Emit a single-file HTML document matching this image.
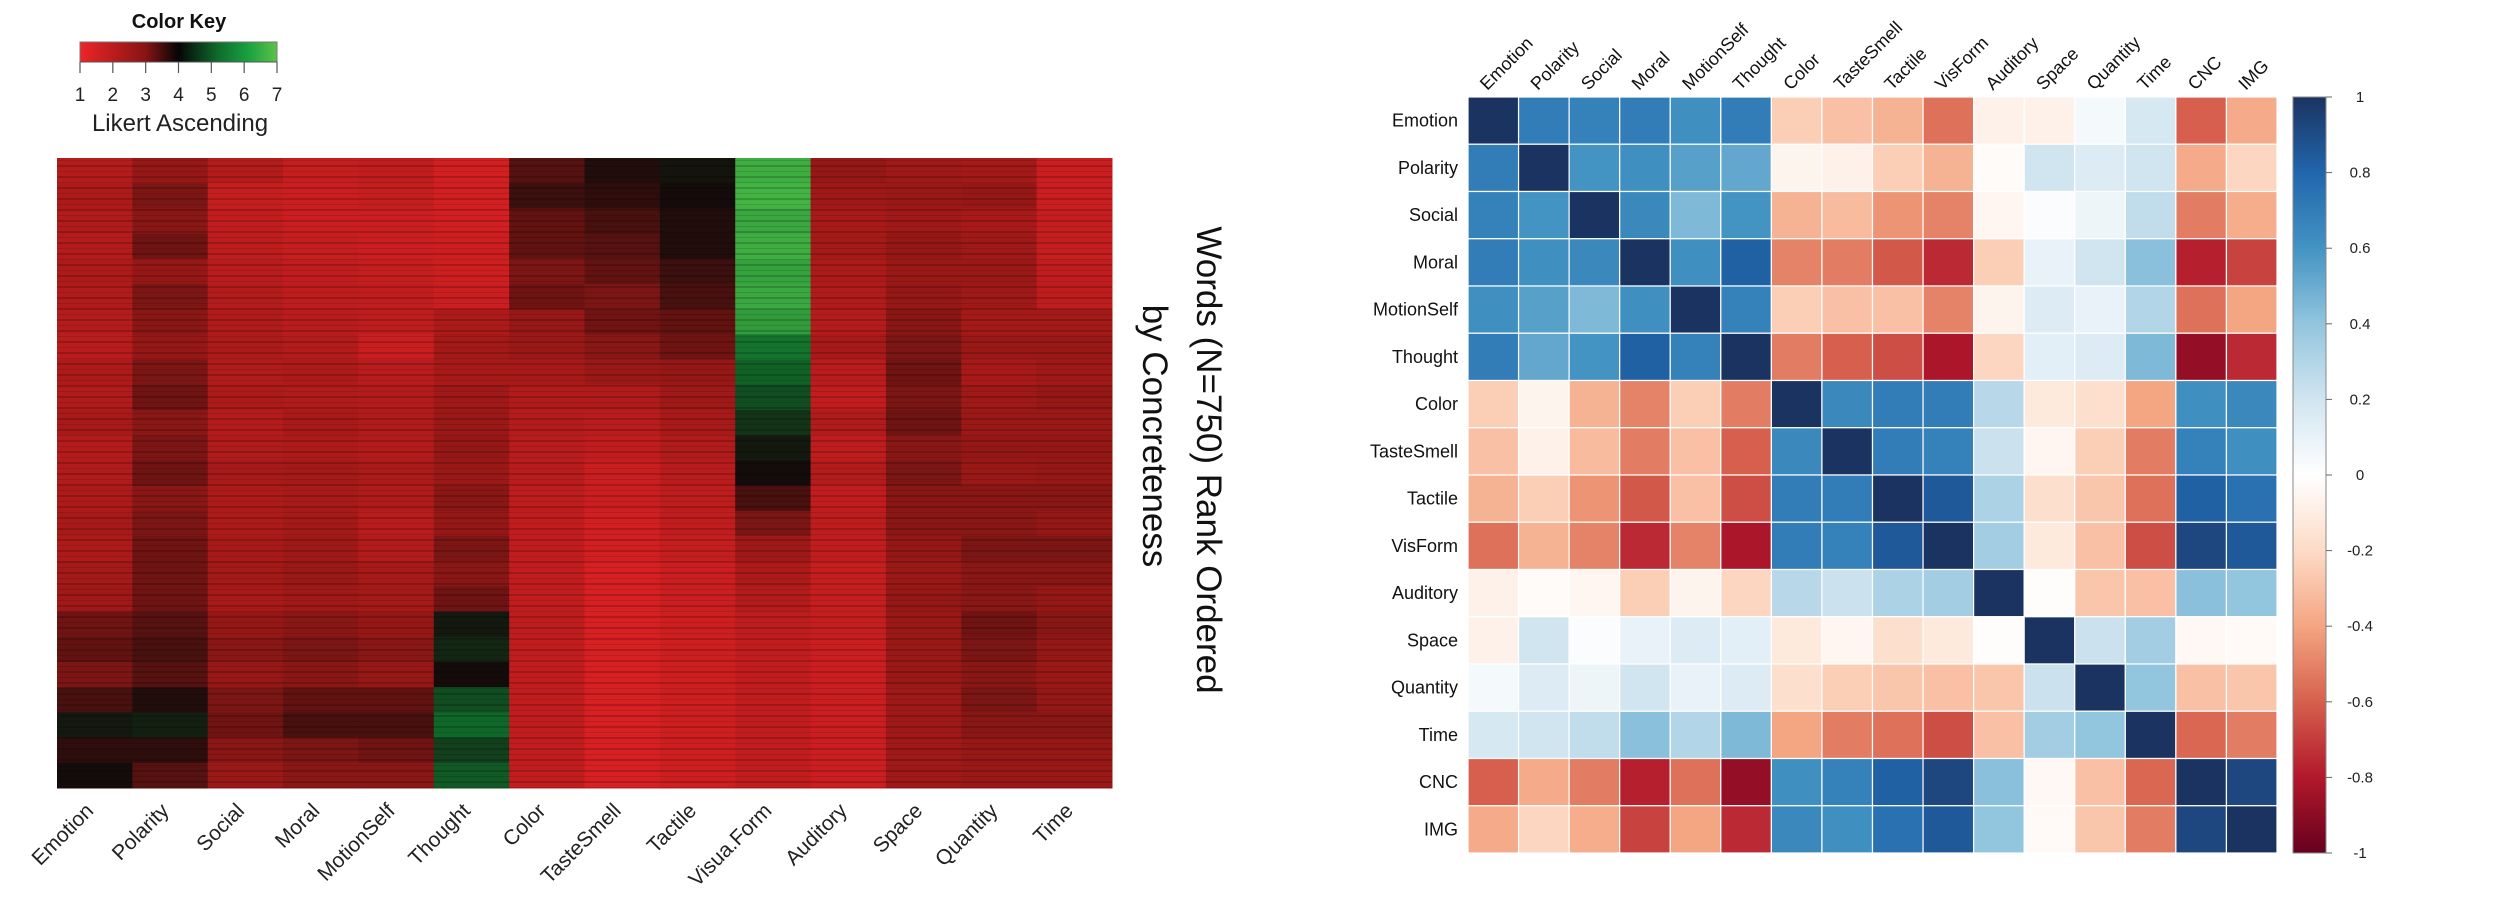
<!DOCTYPE html>
<html><head><meta charset="utf-8"><style>
html,body{margin:0;padding:0;background:#fff;}
svg{display:block;font-family:"Liberation Sans",sans-serif;}
</style></head><body>
<svg id="root" width="2500" height="902" viewBox="0 0 2500 902">
<defs>
<linearGradient id="keyGrad" x1="0" x2="1" y1="0" y2="0">
<stop offset="0" stop-color="#ee2428"/><stop offset="0.33" stop-color="#8a1414"/><stop offset="0.5" stop-color="#050505"/><stop offset="0.7" stop-color="#0f6b2c"/><stop offset="0.85" stop-color="#18a040"/><stop offset="1" stop-color="#5cc24a"/>
</linearGradient>
<linearGradient id="corrGrad" x1="0" x2="0" y1="0" y2="1">
<stop offset="0" stop-color="#1b3360"/><stop offset="0.1" stop-color="#2166ac"/><stop offset="0.2" stop-color="#4393c3"/><stop offset="0.3" stop-color="#92c5de"/><stop offset="0.4" stop-color="#d1e5f0"/><stop offset="0.5" stop-color="#ffffff"/><stop offset="0.6" stop-color="#fddbc7"/><stop offset="0.7" stop-color="#f4a582"/><stop offset="0.8" stop-color="#d6604d"/><stop offset="0.9" stop-color="#b2182b"/><stop offset="1" stop-color="#67001f"/>
</linearGradient>
<pattern id="stripes" width="8" height="11" patternUnits="userSpaceOnUse">
<rect x="0" y="0" width="8" height="2" fill="#000" opacity="0.18"/><rect x="0" y="6" width="8" height="1" fill="#000" opacity="0.12"/>
</pattern>
</defs>
<g id="left"></g>
<g id="right"></g>
</svg>
<script>
const NS="http://www.w3.org/2000/svg";
// ---- Heatmap data (segment means of 30 words each, 25 segments, Likert 1-7) ----
const heatCategories=["Emotion","Polarity","Social","Moral","MotionSelf","Thought","Color","TasteSmell","Tactile","Visua.Form","Auditory","Space","Quantity","Time"];
const heatEmotion=[2.3,2.5,2.4,2.3,2.5,2.4,2.3,2.2,2.5,2.4,2.6,2.3,2.4,2.5,2.6,2.5,2.7,2.8,3.3,3.4,3.2,3.6,4.2,3.8,4.0];
const heatPolarity=[3.0,3.2,3.1,3.3,3.0,3.2,3.1,3.0,3.2,3.3,3.1,3.2,3.3,3.1,3.2,3.3,3.3,3.3,3.5,3.6,3.5,3.9,4.3,3.8,3.5];
const heatSocial=[2.3,1.9,2.0,2.1,2.2,2.3,2.4,2.5,2.4,2.5,2.3,2.4,2.6,2.5,2.5,2.6,2.7,2.6,3.0,3.1,3.0,3.2,3.3,3.1,2.9];
const heatMoral=[1.9,1.8,1.8,1.9,2.0,2.1,2.2,2.3,2.5,2.4,2.6,2.5,2.7,2.6,2.7,2.8,2.9,2.8,3.1,3.2,3.1,3.4,3.6,3.2,3.1];
const heatMotionSelf=[2.0,1.9,1.8,1.8,1.9,2.0,2.1,1.8,2.2,2.3,2.4,2.3,2.5,2.4,2.2,2.3,2.6,2.7,3.0,3.1,3.0,3.4,3.6,3.3,3.1];
const heatThought=[1.6,1.6,1.6,1.7,1.7,1.8,2.5,2.7,2.6,2.8,2.9,3.0,2.9,3.1,3.0,3.2,3.1,3.3,4.2,4.4,4.0,5.0,5.4,4.8,5.2];
const heatColor=[3.5,3.7,3.4,3.4,3.2,3.3,3.0,2.9,2.6,2.4,2.3,2.2,2.2,2.1,2.0,2.0,2.0,2.0,2.1,2.0,2.0,2.0,2.0,2.0,2.0];
const heatTasteSmell=[3.9,3.8,3.6,3.5,3.4,3.2,3.3,3.1,2.9,2.4,2.2,2.0,1.8,1.8,1.6,1.6,1.5,1.5,1.5,1.5,1.5,1.5,1.5,1.5,1.5];
const heatTactile=[4.1,4.0,3.9,3.9,3.7,3.6,3.4,3.3,3.0,2.8,2.6,2.4,2.2,2.1,2.0,1.9,1.8,1.8,1.7,1.7,1.7,1.7,1.7,1.7,1.7];
const heatVisForm=[6.6,6.7,6.5,6.6,6.4,6.5,6.3,5.6,5.3,5.0,4.6,4.2,4.0,3.6,3.2,2.8,2.5,2.3,2.1,2.0,2.0,2.0,2.0,2.0,2.0];
const heatAuditory=[3.0,2.8,2.6,2.7,2.5,2.4,2.3,2.6,2.2,2.0,2.4,2.1,2.3,2.0,2.1,2.0,1.9,1.9,1.9,1.8,1.8,1.8,1.8,1.8,1.8];
const heatSpace=[2.8,2.9,2.8,3.0,2.9,3.0,3.1,3.2,3.3,3.2,3.3,3.1,3.2,3.1,3.1,3.0,2.9,3.0,2.9,2.9,2.9,2.8,2.8,2.8,2.8];
const heatQuantity=[2.7,3.0,2.6,2.8,2.9,2.8,2.7,2.9,2.6,2.8,2.9,3.0,2.9,3.1,3.1,3.2,3.1,3.1,3.3,3.2,3.1,3.2,3.1,3.0,2.9];
const heatTime=[1.8,1.8,1.9,1.9,2.0,2.1,2.7,2.9,2.8,3.0,2.9,3.0,3.0,3.1,3.0,3.2,3.1,3.0,3.1,3.0,2.9,3.0,3.1,3.0,2.9];
const heatSeries=[heatEmotion,heatPolarity,heatSocial,heatMoral,heatMotionSelf,heatThought,heatColor,heatTasteSmell,heatTactile,heatVisForm,heatAuditory,heatSpace,heatQuantity,heatTime];
const keyTicks=[1,2,3,4,5,6,7];

// ---- Correlation data ----
const corrVars=["Emotion","Polarity","Social","Moral","MotionSelf","Thought","Color","TasteSmell","Tactile","VisForm","Auditory","Space","Quantity","Time","CNC","IMG"];
const corrEmotion=[1,.7,.68,.7,.62,.7,-.25,-.3,-.35,-.55,-.08,-.08,.05,.18,-.6,-.38];
const corrPolarity=[.7,1,.6,.62,.55,.52,-.06,-.08,-.25,-.35,-.02,.2,.15,.2,-.38,-.22];
const corrSocial=[.68,.6,1,.65,.45,.6,-.35,-.32,-.45,-.5,-.05,.02,.08,.25,-.52,-.37];
const corrMoral=[.7,.62,.65,1,.62,.82,-.5,-.52,-.62,-.75,-.25,.1,.2,.42,-.78,-.68];
const corrMotionSelf=[.62,.55,.45,.62,1,.68,-.25,-.3,-.3,-.5,-.06,.15,.1,.3,-.55,-.4];
const corrThought=[.7,.52,.6,.82,.68,1,-.52,-.6,-.65,-.82,-.22,.12,.15,.45,-.88,-.75];
const corrColor=[-.25,-.06,-.35,-.5,-.25,-.52,1,.65,.7,.7,.28,-.12,-.18,-.4,.62,.65];
const corrTasteSmell=[-.3,-.08,-.32,-.52,-.3,-.6,.65,1,.7,.68,.22,-.05,-.25,-.52,.68,.62];
const corrTactile=[-.35,-.25,-.45,-.62,-.3,-.65,.7,.7,1,.85,.32,-.18,-.28,-.55,.82,.75];
const corrVisForm=[-.55,-.35,-.5,-.75,-.5,-.82,.7,.68,.85,1,.35,-.12,-.3,-.65,.92,.85];
const corrAuditory=[-.08,-.02,-.05,-.25,-.06,-.22,.28,.22,.32,.35,1,-.01,-.28,-.3,.42,.4];
const corrSpace=[-.08,.2,.02,.1,.15,.12,-.12,-.05,-.18,-.12,-.01,1,.22,.35,-.04,-.03];
const corrQuantity=[.05,.15,.08,.2,.1,.15,-.18,-.25,-.28,-.3,-.28,.22,1,.4,-.3,-.28];
const corrTime=[.18,.2,.25,.42,.3,.45,-.4,-.52,-.55,-.65,-.3,.35,.4,1,-.58,-.52];
const corrCNC=[-.6,-.38,-.52,-.78,-.55,-.88,.62,.68,.82,.92,.42,-.04,-.3,-.58,1,.92];
const corrIMG=[-.38,-.22,-.37,-.68,-.4,-.75,.65,.62,.75,.85,.4,-.03,-.28,-.52,.92,1];
const corrRows=[corrEmotion,corrPolarity,corrSocial,corrMoral,corrMotionSelf,corrThought,corrColor,corrTasteSmell,corrTactile,corrVisForm,corrAuditory,corrSpace,corrQuantity,corrTime,corrCNC,corrIMG];
const colorbarTicks=[1,0.8,0.6,0.4,0.2,0,-0.2,-0.4,-0.6,-0.8,-1];

function mk(tag,attrs,parent,text){const e=document.createElementNS(NS,tag);for(const k in attrs)e.setAttribute(k,attrs[k]);if(text!==undefined)e.textContent=text;parent.appendChild(e);return e;}
function lerp(a,b,t){return a+(b-a)*t;}
function interp(stops,v){for(let i=0;i<stops.length-1;i++){const [v0,c0]=stops[i],[v1,c1]=stops[i+1];if(v>=v0&&v<=v1){const t=(v-v0)/(v1-v0);return `rgb(${Math.round(lerp(c0[0],c1[0],t))},${Math.round(lerp(c0[1],c1[1],t))},${Math.round(lerp(c0[2],c1[2],t))})`;}}const c=v<stops[0][0]?stops[0][1]:stops[stops.length-1][1];return `rgb(${c})`;}
const likertStops=[[1,[236,34,38]],[3,[150,24,22]],[4,[20,12,10]],[5.5,[16,110,44]],[7,[80,196,74]]];
const rdbuStops=[[-1,[103,0,31]],[-0.8,[178,24,43]],[-0.6,[214,96,77]],[-0.4,[244,165,130]],[-0.2,[253,219,199]],[0,[255,255,255]],[0.2,[209,229,240]],[0.4,[146,197,222]],[0.6,[67,147,195]],[0.8,[33,102,172]],[1,[27,51,96]]];

// ---- Left heatmap ----
const L=document.getElementById('left');
const hx0=57,hx1=1112,hy0=158,hy1=788;
const nCol=heatCategories.length,colW=(hx1-hx0)/nCol;
const xCol=i=>hx0+i*colW;
heatSeries.forEach((arr,ci)=>{
  const g=mk('g',{},L);
  
  
  const segH=(hy1-hy0)/arr.length;
  arr.forEach((v,ri)=>{
    const r=mk('rect',{x:xCol(ci),y:hy0+ri*segH,width:colW+0.5,height:segH+0.5,fill:interp(likertStops,v)},g);
    
    
  });
});
const ov=mk('rect',{x:hx0,y:hy0,width:hx1-hx0,height:hy1-hy0,fill:'url(#stripes)'},L);


heatCategories.forEach((c,i)=>{
  const cx=xCol(i)+colW/2,ty=812;
  const t=mk('text',{x:cx,y:ty,'text-anchor':'end','font-size':21,fill:'#222',transform:`rotate(-45 ${cx} ${ty})`},L,c);
  
  
});
// color key
const kg=mk('g',{},L);


const kt=mk('text',{x:179,y:28,'text-anchor':'middle','font-size':20,'font-weight':'bold',fill:'#111'},kg,'Color Key');


const kx0=80,kx1=277;
const kb=mk('rect',{x:kx0,y:42,width:kx1-kx0,height:20,fill:'url(#keyGrad)',stroke:'#777','stroke-width':1},kg);


mk('line',{x1:kx0,x2:kx1,y1:62,y2:62,stroke:'#555','stroke-width':1},kg);
keyTicks.forEach(v=>{
  const x=kx0+(v-1)/6*(kx1-kx0);
  mk('line',{x1:x,x2:x,y1:62,y2:73,stroke:'#555','stroke-width':1.2},kg);
  const t=mk('text',{x:x,y:101,'text-anchor':'middle','font-size':19,fill:'#222'},kg,String(v));
  
  
});
const kl=mk('text',{x:180,y:131,'text-anchor':'middle','font-size':24,fill:'#222'},kg,'Likert Ascending');


// rotated title
[['Words (N=750) Rank Ordered',1197,460],['by Concreteness',1143,436]].forEach(([s,x,y],i)=>{
  const t=mk('text',{x:x,y:y,'text-anchor':'middle','font-size':35,fill:'#111',transform:`rotate(90 ${x} ${y})`},L,s);
  
  
});

// ---- Right correlation matrix ----
const R=document.getElementById('right');
const gx0=1468,gx1=2277,gy0=97,gy1=853;
const n=corrVars.length,cw=(gx1-gx0)/n,ch=(gy1-gy0)/n;
const cx=j=>gx0+j*cw, cy=i=>gy0+i*ch;
corrRows.forEach((row,i)=>{
  row.forEach((v,j)=>{
    const r=mk('rect',{x:cx(j),y:cy(i),width:cw,height:ch,fill:interp(rdbuStops,v),stroke:'#fff','stroke-width':1.2},R);
    
    
  });
});
corrVars.forEach((c,i)=>{
  const t=mk('text',{x:gx0-10,y:cy(i)+ch/2+6,'text-anchor':'end','font-size':18,fill:'#111'},R,c);
  
  
  const x=cx(i)+cw/2-6,y=gy0-6;
  const u=mk('text',{x:x,y:y,'text-anchor':'start','font-size':18,fill:'#111',transform:`rotate(-45 ${x} ${y})`},R,c);
  
  
});
// colorbar
const bx=2293,bw=33;
const cb=mk('rect',{x:bx,y:gy0,width:bw,height:gy1-gy0,fill:'url(#corrGrad)',stroke:'#888','stroke-width':1},R);


const yb=v=>gy0+(1-v)/2*(gy1-gy0);
colorbarTicks.forEach(v=>{
  const y=yb(v);
  mk('line',{x1:bx+bw,x2:bx+bw+6,y1:y,y2:y,stroke:'#666','stroke-width':1},R);
  const t=mk('text',{x:2360,y:y+5,'text-anchor':'middle','font-size':15,fill:'#222'},R,String(v));
  
  
});
</script>
</body></html>
